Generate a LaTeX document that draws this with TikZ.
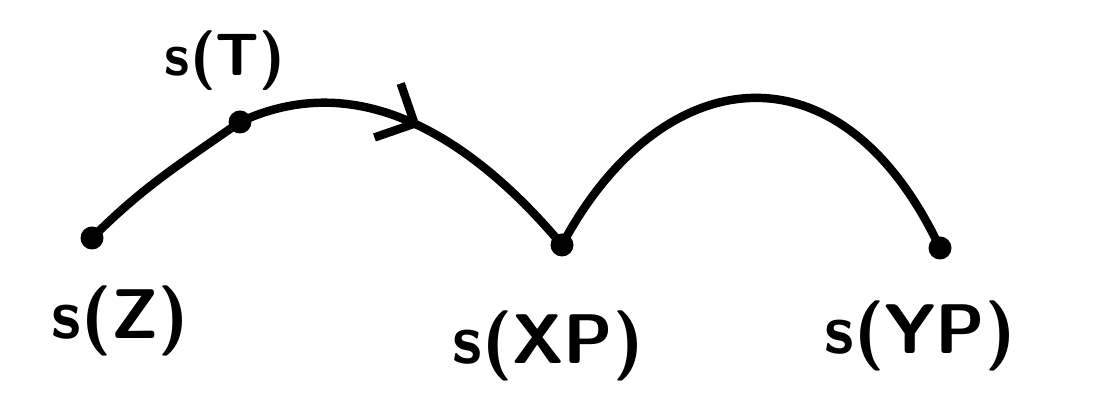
\documentclass[tikz,border=0pt]{standalone}
\usepackage{amsmath, amssymb}
\usepackage{tikz}
\usetikzlibrary{calc, shapes, arrows.meta, decorations.markings, positioning}

\tikzset{
    pt/.style={circle, fill=black, inner sep=0pt, minimum size=0.46cm},
    lbl/.style={font=\sffamily\bfseries\fontsize{40}{48}\selectfont},
    path/.style={line width=4.8pt, line cap=round},
}

\begin{document}
\begin{tikzpicture}
        \useasboundingbox (0,0) rectangle (22.24,8.12);
        \node[pt] (z)  at (1.84,3.36) {};
        \node[pt] (t)  at (4.80,5.68) {};
        \node[pt] (xp) at (11.24,3.22) {};
        \node[pt] (yp) at (18.80,3.16) {};
        \node[lbl, font=\sffamily\bfseries\fontsize{34}{40}\selectfont] (lt) at (4.5,6.9) {s(T)};
        \node[lbl] (lz)  at (2.4,1.7) {s(Z)};
        \node[lbl] (lxp) at (10.96,1.2) {s(XP)};
        \node[lbl] (lyp) at (18.4,1.4) {s(YP)};
        \draw[path] (z.center) to[out=45, in=215] (t.center);
        \draw[path, postaction={decorate}, decoration={markings,
            mark=at position 0.5 with {\arrow{Straight Barb[length=0.6cm, width=1.2cm, line width=4.8pt]}}}]
            (t.center) to[out=25, in=130] (xp.center);
        \draw[path] (xp.center) .. controls (13.2,6.9) and (16.8,7.4) .. (yp.center);
    \end{tikzpicture}
\end{document}
